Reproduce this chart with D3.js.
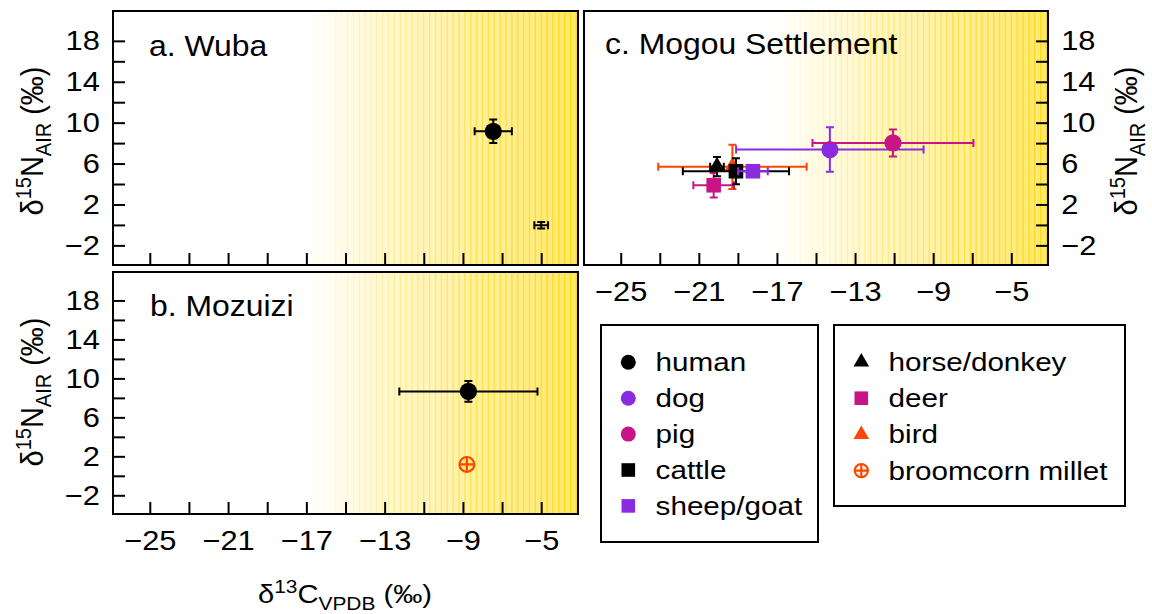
<!DOCTYPE html>
<html>
<head>
<meta charset="utf-8">
<script src="https://cdn.jsdelivr.net/npm/d3@7"></script>
<style>
  body { margin: 0; background: #fff; }
  svg { display: block; }
</style>
</head>
<body>
<div id="graf"></div>
<script>
// I. Datos

const xTicks  = [-25, -23, -21, -19, -17, -15, -13, -11, -9, -7, -5]
const xLabels = [-25, -21, -17, -13, -9, -5]
const yTicks  = [-2, 0, 2, 4, 6, 8, 10, 12, 14, 16, 18]
const yLabels = [-2, 2, 6, 10, 14, 18]

// a. Wuba
const wubaGroup = ['human', 'unmarked']
const wubaC     = [-7.45, -5.0]
const wubaCsd   = [0.95, 0.35]
const wubaN     = [9.15, -0.03]
const wubaNsd   = [1.15, 0.32]

// b. Mozuizi
const mozuiziGroup = ['human', 'broomcorn millet']
const mozuiziC     = [-8.72, -8.8]
const mozuiziCsd   = [3.53, 0]
const mozuiziN     = [8.66, 1.17]
const mozuiziNsd   = [1.06, 0]

// c. Mogou Settlement
const mogouGroup = ['bird', 'deer', 'horse/donkey', 'cattle', 'sheep/goat', 'dog', 'pig']
const mogouC     = [-19.28, -20.24, -20.07, -19.1, -18.23, -14.29, -11.06]
const mogouCsd   = [3.8, 1.04, 0.35, 2.72, 0.76, 4.8, 4.12]
const mogouN     = [5.68, 3.88, 5.7, 5.25, 5.25, 7.37, 8.02]
const mogouNsd   = [2.17, 1.2, 0.95, 1.28, 0.5, 2.17, 1.32]

const legend1 = ['human', 'dog', 'pig', 'cattle', 'sheep/goat']
const legend2 = ['horse/donkey', 'deer', 'bird', 'broomcorn millet']


// II. Configuracion

const W = 1152, H = 614
const SX = 1.1
const FONT = '"Liberation Sans", Arial, Helvetica, sans-serif'
const purple = '#8A2BE2', magenta = '#C71585', orange = '#FF4500'

const estilo = {
  'human':            { shape: 'circle',   color: '#000' },
  'dog':              { shape: 'circle',   color: purple },
  'pig':              { shape: 'circle',   color: magenta },
  'cattle':           { shape: 'square',   color: '#000' },
  'sheep/goat':       { shape: 'square',   color: purple },
  'horse/donkey':     { shape: 'triangle', color: '#000' },
  'deer':             { shape: 'square',   color: magenta },
  'bird':             { shape: 'triangle', color: orange },
  'broomcorn millet': { shape: 'plus',     color: orange },
  'unmarked':         { shape: null,       color: '#000' }
}

const fmt = d => String(d).replace('-', '\u2212')

const svg = d3.select('#graf').append('svg')
  .attr('width', W).attr('height', H)
  .style('font-family', FONT)

const panels = [
  { id: 'a', title: 'a. Wuba', x0: 113, x1: 578, y0: 11, y1: 265, lab: [149, 56],
    yAxis: 'left', xAxis: false,
    g: wubaGroup, c: wubaC, cs: wubaCsd, n: wubaN, ns: wubaNsd },
  { id: 'b', title: 'b. Mozuizi', x0: 113, x1: 578, y0: 272, y1: 514, lab: [150, 316],
    yAxis: 'left', xAxis: true,
    g: mozuiziGroup, c: mozuiziC, cs: mozuiziCsd, n: mozuiziN, ns: mozuiziNsd },
  { id: 'c', title: 'c. Mogou Settlement', x0: 584, x1: 1048, y0: 11, y1: 265, lab: [605, 54],
    yAxis: 'right', xAxis: true,
    g: mogouGroup, c: mogouC, cs: mogouCsd, n: mogouN, ns: mogouNsd }
]


// III. Simbolos

function simbolo(sel, shape, cx, cy, s, color) {
  if (shape === 'circle') {
    sel.append('circle').attr('cx', cx).attr('cy', cy).attr('r', s).attr('fill', color)
  } else if (shape === 'square') {
    sel.append('rect').attr('x', cx - s).attr('y', cy - s)
      .attr('width', 2 * s).attr('height', 2 * s).attr('fill', color)
  } else if (shape === 'triangle') {
    const xc = s * Math.sqrt(3) / 2
    sel.append('path')
      .attr('d', `M${cx},${cy - s}L${cx + xc},${cy + s / 2}L${cx - xc},${cy + s / 2}Z`)
      .attr('fill', color)
  } else if (shape === 'plus') {
    sel.append('circle').attr('cx', cx).attr('cy', cy).attr('r', s)
      .attr('fill', 'none').attr('stroke', color).attr('stroke-width', 2.2)
    sel.append('path')
      .attr('d', `M${cx - s},${cy}H${cx + s}M${cx},${cy - s}V${cy + s}`)
      .attr('stroke', color).attr('stroke-width', 2.2)
  }
}

function ylab(x, y) {
  const t = svg.append('text')
    .attr('transform', `translate(${x},${y}) scale(${SX},1) rotate(-90)`)
    .attr('text-anchor', 'middle')
    .attr('font-size', 29)
  t.append('tspan').text('\u03B4')
  t.append('tspan').attr('font-size', 20).attr('dy', -11).text('15')
  t.append('tspan').attr('dy', 11).text('N')
  t.append('tspan').attr('font-size', 20).attr('dy', 7).text('AIR')
  t.append('tspan').attr('dy', -7).text(' (\u2030)')
}


// IV. Render

panels.forEach(p => {
  const x = d3.scaleLinear().domain([-26.88, -3.12]).range([p.x0, p.x1])
  const y = d3.scaleLinear().domain([-3.92, 20.92]).range([p.y1, p.y0])

  svg.append('clipPath').attr('id', 'clip' + p.id)
    .append('rect').attr('x', p.x0).attr('y', p.y0)
    .attr('width', p.x1 - p.x0).attr('height', p.y1 - p.y0)

  const g = svg.append('g')

  // fondo amarillo (C4)
  const fondo = g.append('g').attr('clip-path', `url(#clip${p.id})`)
  const step = 0.3, start = -17, end = -3.12
  const alpha = v => Math.max(0, 0.58 * (v - start) / (end - start))
  const franjas = d3.range(start, end + step, step)
  fondo.selectAll('rect.franja').data(franjas).enter().append('rect')
    .attr('class', 'franja')
    .attr('x', d => x(d)).attr('y', p.y0)
    .attr('width', x(start + step) - x(start) + 0.2).attr('height', p.y1 - p.y0)
    .attr('fill', '#FFD700').attr('fill-opacity', d => alpha(d + step / 2))
  fondo.selectAll('line.franja').data(franjas).enter().append('line')
    .attr('class', 'franja')
    .attr('x1', d => x(d)).attr('x2', d => x(d))
    .attr('y1', p.y0).attr('y2', p.y1)
    .attr('stroke', '#FFD700').attr('stroke-width', 1.3)
    .attr('stroke-opacity', d => Math.min(0.8, alpha(d) * 1.4))

  // ejes
  const yAx = (p.yAxis === 'left' ? d3.axisLeft(y) : d3.axisRight(y))
    .tickValues(yTicks).tickSize(-12).tickPadding(12)
    .tickFormat(d => yLabels.includes(d) ? fmt(d) : '')
  const yG = g.append('g')
    .attr('transform', `translate(${p.yAxis === 'left' ? p.x0 : p.x1},0)`)
    .call(yAx)

  const xAx = d3.axisBottom(x).tickValues(xTicks).tickSize(-12).tickPadding(16)
    .tickFormat(d => p.xAxis && xLabels.includes(d) ? fmt(d) : '')
  const xG = g.append('g').attr('transform', `translate(0,${p.y1})`).call(xAx)

  ;[yG, xG].forEach(a => {
    a.select('.domain').remove()
    a.selectAll('line').attr('stroke', '#000').attr('stroke-width', 2)
    a.selectAll('text').attr('font-size', 28).attr('fill', '#000')
      .attr('font-family', FONT).attr('transform', `scale(${SX},1)`)
  })

  // puntos con barras de error
  const pts = g.append('g')
  p.g.forEach((grp, i) => {
    const st = estilo[grp]
    const cx = x(p.c[i]), cy = y(p.n[i])
    const e = pts.append('g').attr('stroke', st.color).attr('stroke-width', 2).attr('fill', 'none')
    if (p.cs[i] > 0) {
      const xa = x(p.c[i] - p.cs[i]), xb = x(p.c[i] + p.cs[i])
      e.append('path').attr('d', `M${xa},${cy}H${xb}M${xa},${cy - 4}V${cy + 4}M${xb},${cy - 4}V${cy + 4}`)
    }
    if (p.ns[i] > 0) {
      const ya = y(p.n[i] - p.ns[i]), yb = y(p.n[i] + p.ns[i])
      e.append('path').attr('d', `M${cx},${ya}V${yb}M${cx - 4},${ya}H${cx + 4}M${cx - 4},${yb}H${cx + 4}`)
    }
    const size = st.shape === 'circle' ? 8.6 : st.shape === 'square' ? 7.3 : st.shape === 'triangle' ? 9.8 : 7.4
    simbolo(pts, st.shape, cx, cy, size, st.color)
  })

  // marco
  g.append('rect').attr('x', p.x0).attr('y', p.y0)
    .attr('width', p.x1 - p.x0).attr('height', p.y1 - p.y0)
    .attr('fill', 'none').attr('stroke', '#000').attr('stroke-width', 2)

  g.append('text')
    .attr('transform', `translate(${p.lab[0]},${p.lab[1]}) scale(${SX},1)`)
    .attr('font-size', 29).text(p.title)
})

// titulos de ejes
ylab(43, 141)
ylab(43, 392)
ylab(1137, 141)

const xt = svg.append('text')
  .attr('transform', `translate(345,603) scale(${SX},1)`)
  .attr('text-anchor', 'middle').attr('font-size', 26.5)
xt.append('tspan').text('\u03B4')
xt.append('tspan').attr('font-size', 19).attr('dy', -10).text('13')
xt.append('tspan').attr('dy', 10).text('C')
xt.append('tspan').attr('font-size', 19).attr('dy', 7).text('VPDB')
xt.append('tspan').attr('dy', -7).text(' (\u2030)')


// V. Leyendas

function leyenda(items, box, sx, tx, y0, dy) {
  const g = svg.append('g')
  g.append('rect').attr('x', box[0]).attr('y', box[1])
    .attr('width', box[2] - box[0]).attr('height', box[3] - box[1])
    .attr('fill', '#fff').attr('stroke', '#000').attr('stroke-width', 2)
  items.forEach((it, i) => {
    const st = estilo[it]
    const cy = y0 + i * dy
    const s = st.shape === 'circle' ? 7.5 : st.shape === 'square' ? 6.8 : st.shape === 'triangle' ? 9 : 6.6
    simbolo(g, st.shape, sx, cy, s, st.color)
    g.append('text')
      .attr('transform', `translate(${tx},${cy + 9}) scale(${SX + 0.04},1)`)
      .attr('font-size', 26).text(it)
  })
}

leyenda(legend1, [601, 325, 818, 542], 628.3, 655.6, 362.3, 35.9)
leyenda(legend2, [834, 325, 1125, 506], 861.3, 888.6, 362, 36.2)
</script>
</body>
</html>
